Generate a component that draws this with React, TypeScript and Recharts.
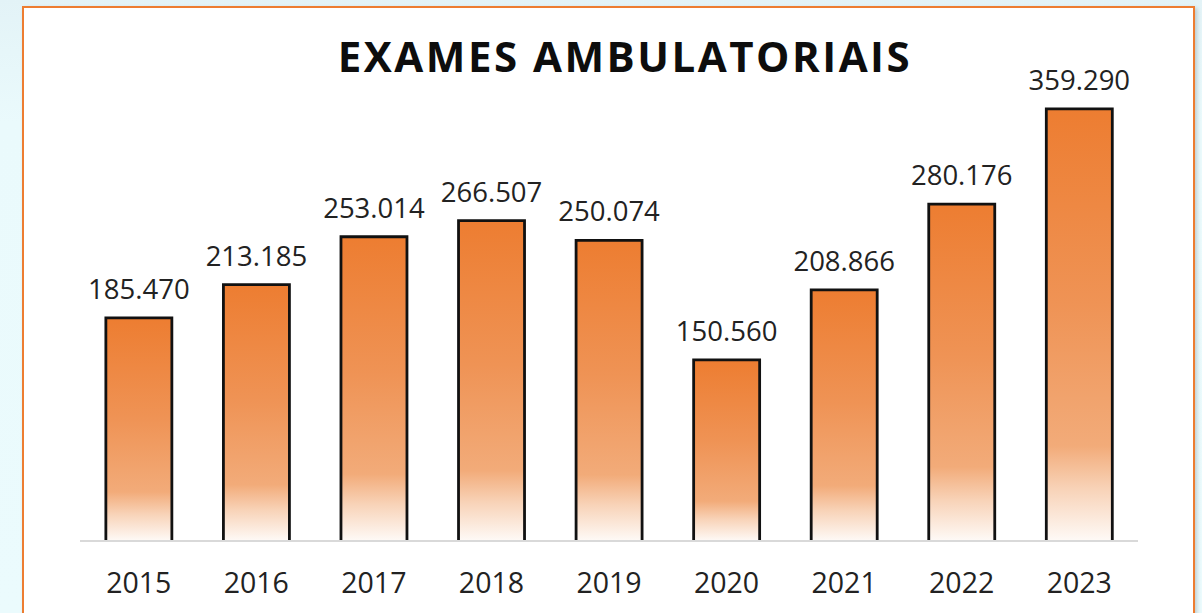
import React from "react";
import { BarChart, Bar, XAxis, YAxis, LabelList } from "recharts";

// ── data ──────────────────────────────────────────────
const years = ["2015", "2016", "2017", "2018", "2019", "2020", "2021", "2022", "2023"];
const exames = [185470, 213185, 253014, 266507, 250074, 150560, 208866, 280176, 359290];

const data = years.map((y, i) => ({ year: y, value: exames[i] }));

const fmt = (v: number) => v.toLocaleString("de-DE");

const FONT = "'Open Sans', 'Noto Sans', sans-serif";

function BarShape(props: any) {
  const { x, y, width, height } = props;
  if (!height || height <= 0) return null;
  const d = `M${x},${y + height} L${x},${y} L${x + width},${y} L${x + width},${y + height}`;
  return (
    <g>
      <rect x={x} y={y} width={width} height={height} fill="url(#barGrad)" />
      <path d={d} fill="none" stroke="#111" strokeWidth={2.8} strokeLinejoin="miter" />
    </g>
  );
}

function ValueLabel(props: any) {
  const { x, y, width, value } = props;
  return (
    <text
      x={x + width / 2}
      y={y - 19}
      textAnchor="middle"
      fill="#222"
      fontSize={27.5}
      fontFamily={FONT}
    >
      {fmt(value)}
    </text>
  );
}

function YearTick(props: any) {
  const { x, payload } = props;
  return (
    <text x={x} y={593} textAnchor="middle" fill="#222" fontSize={28.5} fontFamily={FONT}>
      {payload.value}
    </text>
  );
}

export default function App() {
  return (
    <div
      style={{
        position: "fixed",
        left: 0,
        top: 0,
        width: 1202,
        height: 613,
        overflow: "hidden",
        background: "linear-gradient(180deg, #e3f3f7 0%, #eafafc 20%, #ebfbfd 100%)",
      }}
    >
      <div
        style={{
          position: "absolute",
          left: 22,
          top: 6,
          width: 1169,
          height: 700,
          background: "#ffffff",
          border: "2px solid #ed7d31",
          boxShadow: "2px 2px 4px rgba(0,0,0,0.18)",
        }}
      />
      <div
        style={{
          position: "absolute",
          left: 625 - 400,
          top: 28,
          width: 800,
          textAlign: "center",
          fontFamily: FONT,
          fontWeight: 700,
          fontSize: 42,
          letterSpacing: 2.5,
          color: "#0d0d0d",
          lineHeight: "56px",
        }}
      >
        EXAMES AMBULATORIAIS
      </div>
      <div style={{ position: "absolute", left: 0, top: 0 }}>
        <BarChart
          width={1202}
          height={613}
          data={data}
          margin={{ top: 60, right: 64, bottom: 0, left: 80 }}
          barCategoryGap="22%"
        >
          <defs>
            <linearGradient id="barGrad" x1="0" y1="0" x2="0" y2="1">
              <stop offset="0%" stopColor="#ed7d31" />
              <stop offset="45%" stopColor="#ef9355" />
              <stop offset="78%" stopColor="#f2ab79" />
              <stop offset="88%" stopColor="#f8d3b8" />
              <stop offset="100%" stopColor="#fefaf7" />
            </linearGradient>
          </defs>
          <YAxis hide domain={[0, 400000]} />
          <XAxis
            dataKey="year"
            height={72}
            axisLine={{ stroke: "#d9d9d9", strokeWidth: 2 }}
            tickLine={false}
            tick={<YearTick />}
            interval={0}
          />
          <Bar dataKey="value" shape={<BarShape />} isAnimationActive={false}>
            <LabelList dataKey="value" content={<ValueLabel />} />
          </Bar>
        </BarChart>
      </div>
    </div>
  );
}
